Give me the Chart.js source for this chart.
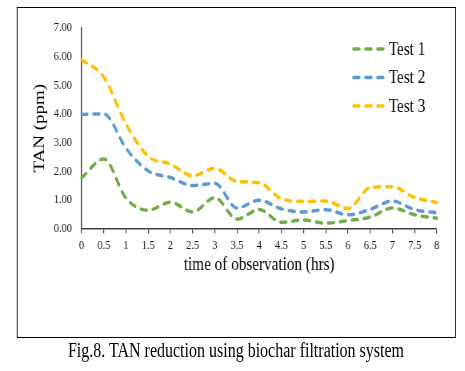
<!DOCTYPE html>
<html>
<head>
<meta charset="utf-8">
<script src="https://cdn.jsdelivr.net/npm/chart.js@4/dist/chart.umd.min.js"></script>
<style>
  html, body { margin: 0; padding: 0; background: #fff; }
  /* the original figure is squeezed horizontally, so the whole page is drawn wider and scaled */
  #page {
    position: absolute; left: 0; top: 0; width: 581px; height: 371px;
    transform: scaleX(0.8); transform-origin: 0 0;
  }
  #box {
    position: absolute; left: 21px; top: 7px; width: 547px; height: 329px;
    border: 1px solid #000;
  }
  #box canvas { position: absolute; left: 0; top: 0; }
  #caption {
    position: absolute; left: 0; top: 340px; width: 590px; text-align: center;
    font: 20px/20px "Liberation Serif", "Times New Roman", serif; color: #000;
  }
</style>
</head>
<body>
<div id="page">
  <div id="box"><canvas id="tanChart" width="547" height="329"></canvas></div>
  <div id="caption">Fig.8. TAN reduction using biochar filtration system</div>
</div>
<script>
// dados
const xLabels = ["0", "0.5", "1", "1.5", "2", "2.5", "3", "3.5", "4", "4.5", "5", "5.5", "6", "6.5", "7", "7.5", "8"];
const test1 = [1.77, 2.43, 1.06, 0.64, 0.92, 0.58, 1.08, 0.33, 0.67, 0.22, 0.30, 0.19, 0.28, 0.40, 0.72, 0.48, 0.36];
const test2 = [3.98, 4.00, 2.80, 2.01, 1.78, 1.50, 1.58, 0.72, 0.99, 0.69, 0.58, 0.66, 0.48, 0.67, 0.96, 0.66, 0.55];
const test3 = [5.89, 5.28, 3.65, 2.52, 2.25, 1.84, 2.10, 1.64, 1.60, 1.04, 0.95, 0.96, 0.70, 1.43, 1.46, 1.08, 0.91];
const seriesNames = ["Test 1", "Test 2", "Test 3"];
const yTicks = [0, 1, 2, 3, 4, 5, 6, 7];

const serif = "'Liberation Serif', 'Times New Roman', serif";
const colors = ["#70AD47", "#5B9BD5", "#FFC000"];

function lineSet(label, data, color) {
  return {
    label: label,
    data: data,
    borderColor: color,
    backgroundColor: color,
    borderWidth: 3.5,
    borderDash: [7, 8],
    borderCapStyle: "round",
    pointRadius: 0,
    cubicInterpolationMode: "monotone",
    fill: false,
  };
}

// legenda desenhada dentro da área do gráfico
const insideLegend = {
  id: "insideLegend",
  afterDraw(chart) {
    const ctx = chart.ctx;
    ctx.save();
    ctx.font = "19px " + serif;
    ctx.textBaseline = "middle";
    ctx.fillStyle = "#000";
    chart.data.datasets.forEach((ds, i) => {
      const y = 41 + i * 28.5;
      ctx.strokeStyle = ds.borderColor;
      ctx.lineWidth = 3.5;
      ctx.lineCap = "round";
      ctx.setLineDash([7, 8]);
      ctx.beginPath();
      ctx.moveTo(420, y);
      ctx.lineTo(459, y);
      ctx.stroke();
      ctx.setLineDash([]);
      ctx.fillText(ds.label, 464, y + 1);
    });
    ctx.restore();
  },
};

const ctx = document.getElementById("tanChart").getContext("2d");
new Chart(ctx, {
  type: "line",
  data: {
    labels: xLabels,
    datasets: [
      lineSet(seriesNames[0], test1, colors[0]),
      lineSet(seriesNames[1], test2, colors[1]),
      lineSet(seriesNames[2], test3, colors[2]),
    ],
  },
  options: {
    responsive: false,
    animation: false,
    devicePixelRatio: 1,
    layout: { padding: { left: 0, top: 17, right: 23, bottom: 61 } },
    plugins: { legend: { display: false }, tooltip: { enabled: false } },
    scales: {
      x: {
        offset: false,
        afterFit(scale) {
          // aproxima o título dos rótulos, como no original
          scale.height = scale.height - 8;
        },
        grid: { drawOnChartArea: false, drawTicks: true, tickLength: 5, color: "#404040", lineWidth: 1.2 },
        border: { color: "#404040", width: 1.5 },
        ticks: { color: "#111", font: { family: serif, size: 13 }, padding: 4, maxRotation: 0, autoSkip: false },
        title: { display: true, text: "time of observation (hrs)", color: "#000", font: { family: serif, size: 19 }, padding: { top: 4, bottom: 0 } },
      },
      y: {
        min: yTicks[0],
        max: yTicks[yTicks.length - 1],
        afterBuildTicks(scale) {
          scale.ticks = yTicks.map((v) => ({ value: v }));
        },
        afterFit(scale) {
          scale.width = 80;
        },
        grid: { display: false, drawTicks: false },
        border: { color: "#404040", width: 1.5 },
        ticks: {
          color: "#111",
          font: { family: serif, size: 13 },
          padding: 12,
          callback: (v) => Number(v).toFixed(2),
        },
        title: { display: true, text: "TAN (ppm)", color: "#000", font: { family: serif, size: 19 }, padding: { top: 17, bottom: 0 } },
      },
    },
  },
  plugins: [insideLegend],
});
</script>
</body>
</html>
